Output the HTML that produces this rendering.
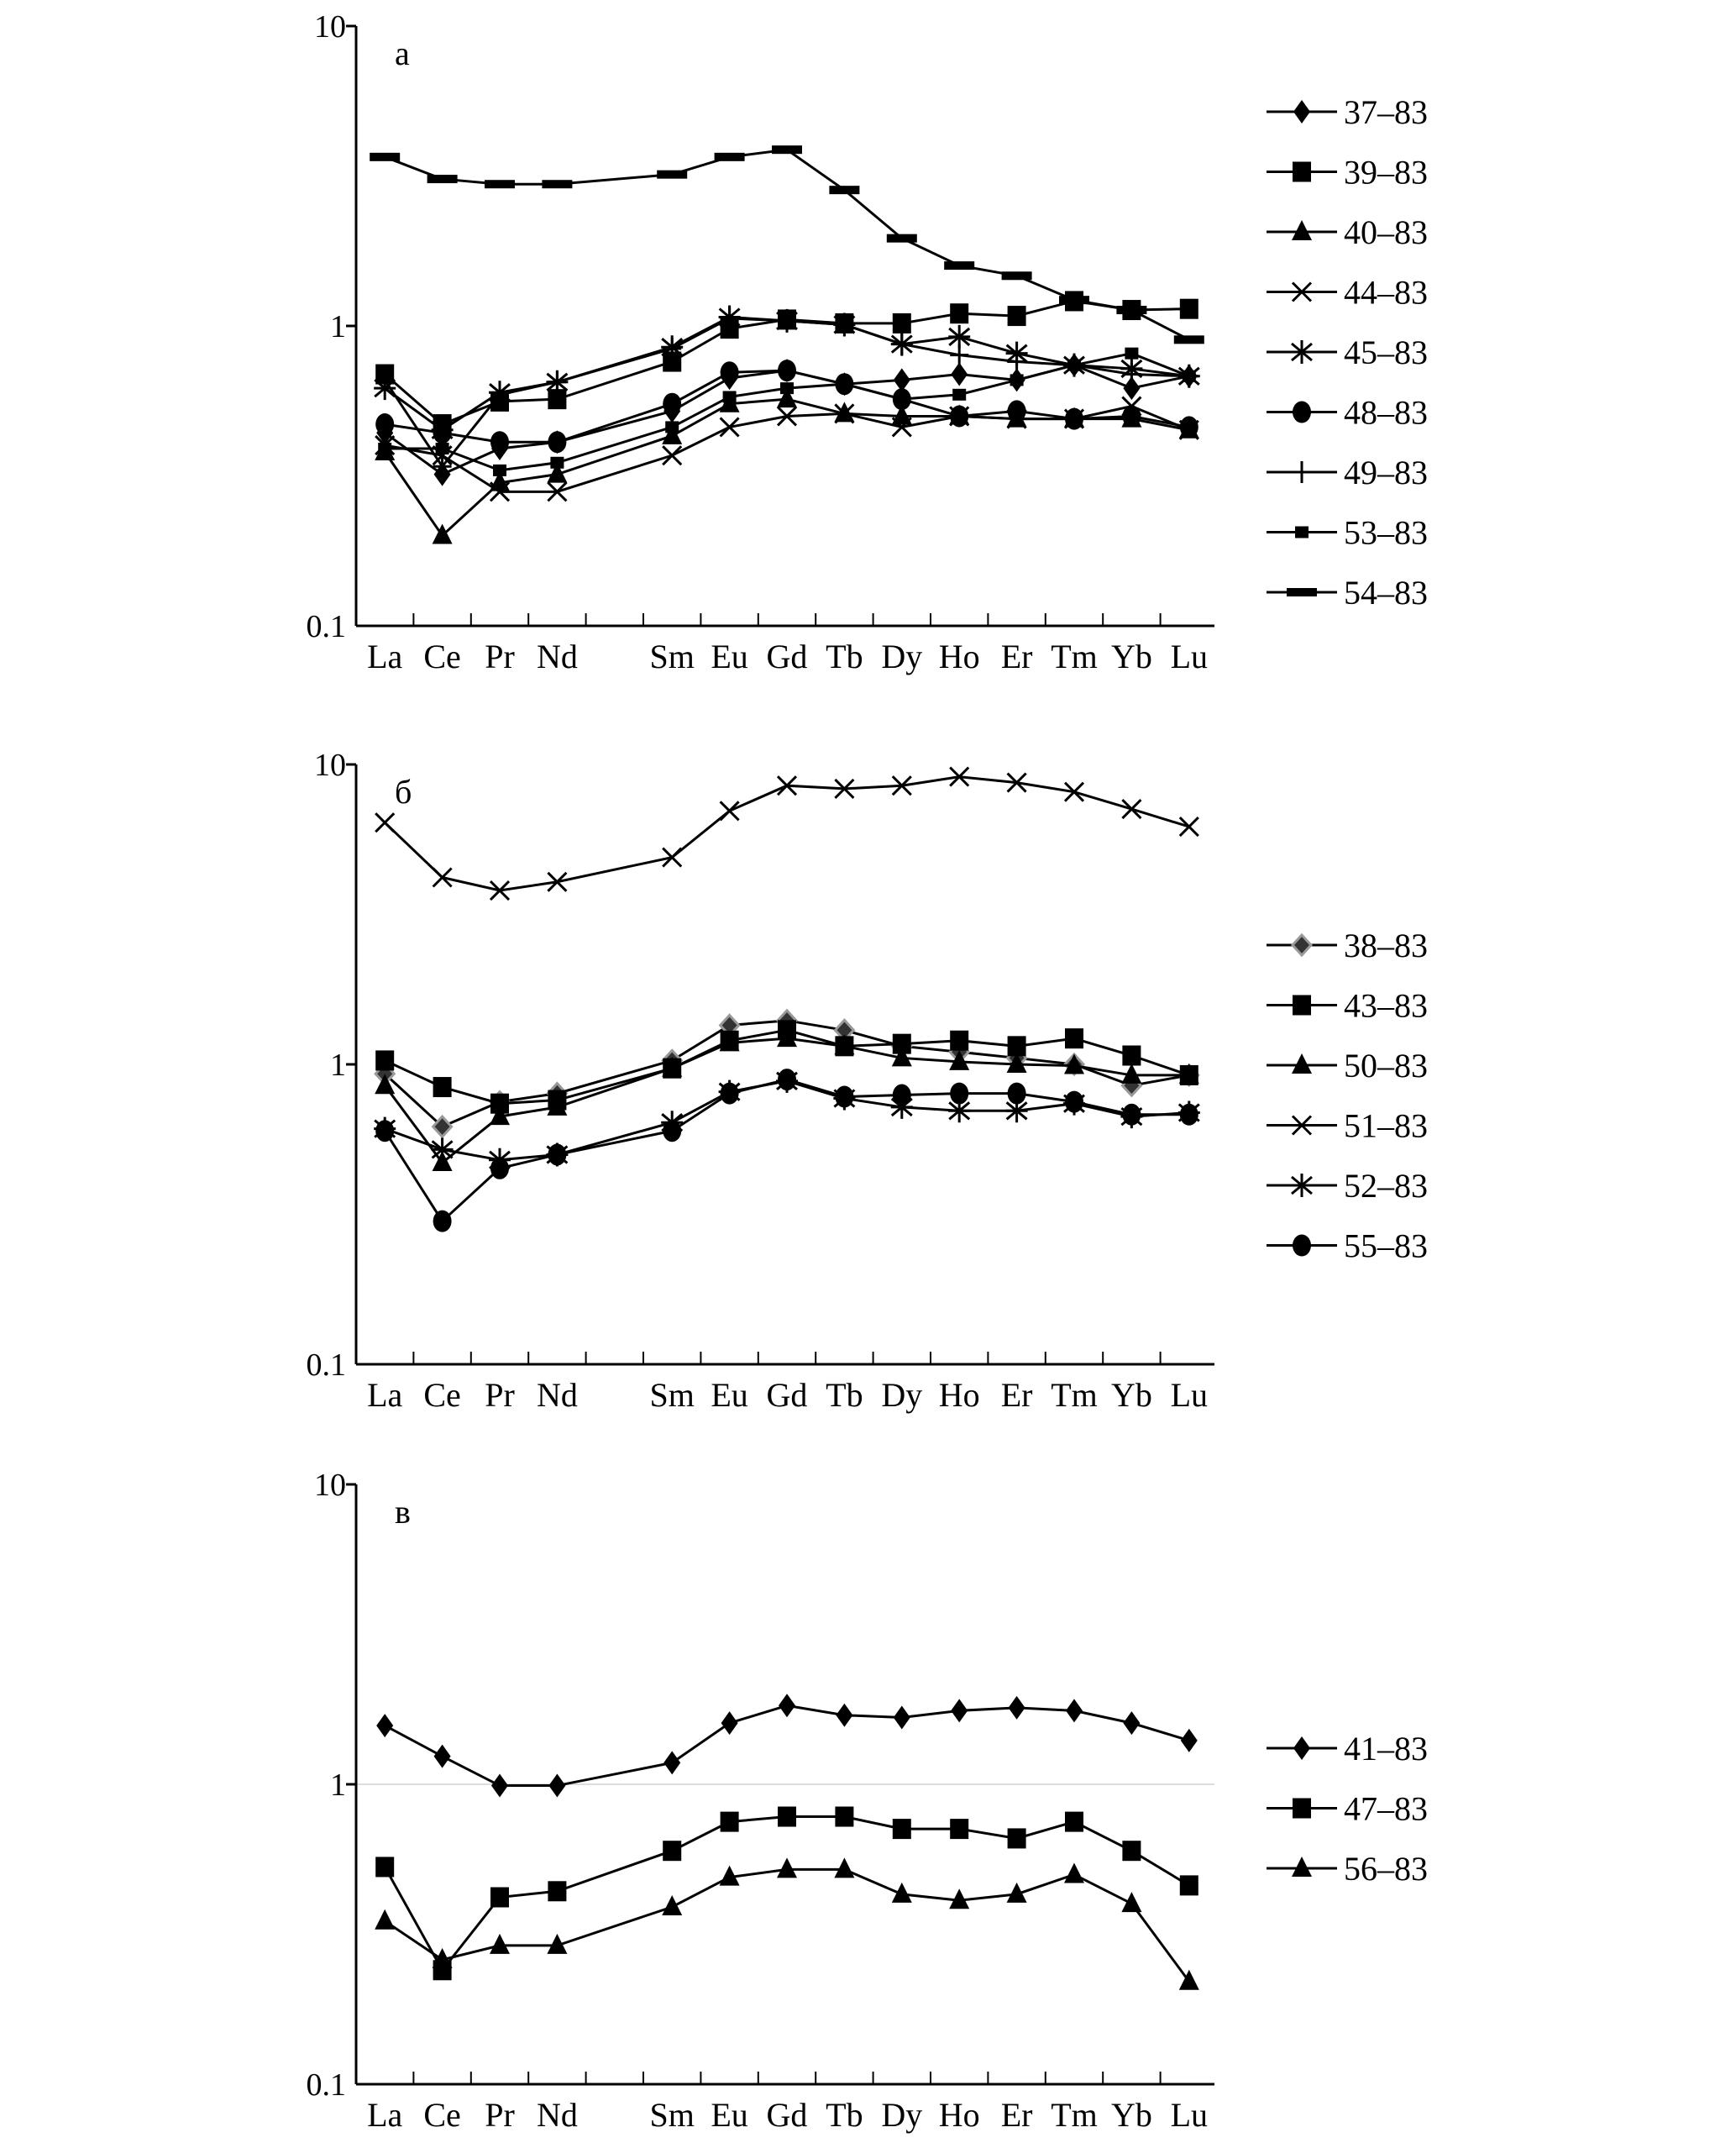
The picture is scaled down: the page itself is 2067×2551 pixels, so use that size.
<!DOCTYPE html>
<html><head><meta charset="utf-8"><style>
html,body{margin:0;padding:0;background:#fff;}
svg{display:block;}
text{font-family:"Liberation Serif",serif;fill:#000;}
</style></head><body>
<svg id="chart" width="2067" height="2551" viewBox="0 0 2067 2551" xmlns="http://www.w3.org/2000/svg"></svg>
<script>
const categories = ["La","Ce","Pr","Nd","Sm","Eu","Gd","Tb","Dy","Ho","Er","Tm","Yb","Lu"];
const catIndex = [0,1,2,3,5,6,7,8,9,10,11,12,13,14];
const yTickLabels = ["10","1","0.1"];
const yTickValues = [10,1,0.1];

const a_names = ["37–83","39–83","40–83","44–83","45–83","48–83","49–83","53–83","54–83"];
const a_markers = ["diamond","square","triangle","x","asterisk","circle","plus","smallsquare","dash"];
const a_37 = [0.44,0.32,0.39,0.41,0.52,0.67,0.71,0.64,0.66,0.69,0.66,0.74,0.62,0.68];
const a_39 = [0.69,0.47,0.56,0.57,0.76,0.98,1.05,1.02,1.02,1.10,1.08,1.21,1.13,1.14];
const a_40 = [0.38,0.20,0.30,0.32,0.43,0.55,0.57,0.51,0.50,0.50,0.49,0.49,0.49,0.45];
const a_44 = [0.40,0.37,0.28,0.28,0.37,0.46,0.50,0.51,0.46,0.50,0.49,0.49,0.54,0.45];
const a_45 = [0.62,0.45,0.60,0.65,0.85,1.07,1.04,1.01,0.87,0.92,0.81,0.74,0.72,0.68];
const a_48 = [0.47,0.44,0.41,0.41,0.55,0.70,0.71,0.64,0.57,0.50,0.52,0.49,0.50,0.46];
const a_49 = [0.66,0.34,0.59,0.65,0.84,1.06,1.04,1.01,0.87,0.80,0.76,0.74,0.69,0.68];
const a_53 = [0.39,0.39,0.33,0.35,0.46,0.58,0.62,0.64,0.57,0.59,0.66,0.74,0.81,0.68];
const a_54 = [3.66,3.09,2.97,2.97,3.20,3.66,3.87,2.84,1.96,1.59,1.47,1.22,1.13,0.90];

const b_names = ["38–83","43–83","50–83","51–83","52–83","55–83"];
const b_markers = ["graydiamond","square","triangle","x","asterisk","circle"];
const b_38 = [0.93,0.62,0.75,0.80,1.03,1.35,1.40,1.30,1.15,1.10,1.05,1.00,0.85,0.92];
const b_43 = [1.03,0.84,0.74,0.76,0.97,1.20,1.30,1.15,1.17,1.20,1.15,1.22,1.07,0.92];
const b_50 = [0.85,0.47,0.67,0.72,0.97,1.18,1.22,1.15,1.05,1.02,1.00,0.99,0.92,0.92];
const b_51 = [6.4,4.2,3.8,4.06,4.9,7.0,8.5,8.3,8.5,9.1,8.7,8.1,7.1,6.2];
const b_52 = [0.61,0.52,0.48,0.50,0.64,0.81,0.88,0.77,0.72,0.70,0.70,0.74,0.67,0.69];
const b_55 = [0.60,0.30,0.45,0.50,0.60,0.80,0.89,0.78,0.79,0.80,0.80,0.75,0.68,0.68];

const c_names = ["41–83","47–83","56–83"];
const c_markers = ["diamond","square","triangle"];
const c_41 = [1.57,1.24,0.99,0.99,1.18,1.60,1.83,1.70,1.67,1.76,1.80,1.76,1.60,1.40];
const c_47 = [0.53,0.24,0.42,0.44,0.60,0.75,0.78,0.78,0.71,0.71,0.66,0.75,0.60,0.46];
const c_56 = [0.35,0.26,0.29,0.29,0.39,0.49,0.52,0.52,0.43,0.41,0.43,0.50,0.40,0.22];

const NS = "http://www.w3.org/2000/svg";
const svg = document.getElementById("chart");
function mk(tag, attrs, parent){const e=document.createElementNS(NS,tag);for(const k in attrs)e.setAttribute(k,attrs[k]);(parent||svg).appendChild(e);return e;}

const X0=424, X1=1446, STEP=68.4;
function xPos(i){return X0+STEP/2+catIndex[i]*STEP;}

function marker(g,type,x,y){
  let e;
  if(type==="diamond"){e=mk("polygon",{points:`${x},${y-14} ${x+10},${y} ${x},${y+14} ${x-10},${y}`,fill:"#000"},g);}
  else if(type==="graydiamond"){e=mk("polygon",{points:`${x},${y-12} ${x+11},${y} ${x},${y+12} ${x-11},${y}`,fill:"#333",stroke:"#999","stroke-width":3},g);}
  else if(type==="square"){e=mk("rect",{x:x-11,y:y-12,width:22,height:24,fill:"#000"},g);}
  else if(type==="smallsquare"){e=mk("rect",{x:x-8,y:y-7,width:16,height:14,fill:"#000"},g);}
  else if(type==="triangle"){e=mk("polygon",{points:`${x},${y-14} ${x+12},${y+10} ${x-12},${y+10}`,fill:"#000"},g);}
  else if(type==="circle"){e=mk("ellipse",{cx:x,cy:y,rx:11,ry:13,fill:"#000"},g);}
  else if(type==="dash"){e=mk("rect",{x:x-18,y:y-5,width:36,height:10,fill:"#000"},g);}
  else if(type==="x"){e=mk("path",{d:`M${x-11},${y-11}L${x+11},${y+11}M${x-11},${y+11}L${x+11},${y-11}`,stroke:"#000","stroke-width":3,fill:"none"},g);}
  else if(type==="plus"){e=mk("path",{d:`M${x-11},${y}L${x+11},${y}M${x},${y-13}L${x},${y+13}`,stroke:"#000","stroke-width":3,fill:"none"},g);}
  else if(type==="asterisk"){e=mk("path",{d:`M${x-12},${y-10}L${x+12},${y+10}M${x-12},${y+10}L${x+12},${y-10}M${x},${y-14}L${x},${y+14}M${x-13},${y}L${x+13},${y}`,stroke:"#000","stroke-width":3,fill:"none"},g);}
  
  
}

function panel(pname,top,letter,series,names,markers,legTop,refLine){
  const DEC=357;
  function yPos(v){return top+(1-Math.log10(v))*DEC;}
  const bottom=yPos(0.1);
  const g=mk("g",{});
  
  
  if(refLine){const r=mk("line",{x1:X0,x2:X1,y1:yPos(1),y2:yPos(1),stroke:"#ddd","stroke-width":2},g);
    
    }
  const ya=mk("line",{x1:X0,x2:X0,y1:top,y2:bottom,stroke:"#000","stroke-width":3},g);
  
  
  const xa=mk("line",{x1:X0,x2:X1,y1:bottom,y2:bottom,stroke:"#000","stroke-width":3},g);
  
  
  yTickValues.forEach((v,i)=>{
    const y=yPos(v);
    if(v!==0.1){const t=mk("line",{x1:X0-12,x2:X0,y1:y,y2:y,stroke:"#000","stroke-width":3},g);
      
      }
    const tx=mk("text",{x:X0-12,y:y+13,"text-anchor":"end","font-size":38},g);
    tx.textContent=yTickLabels[i];
    
    
  });
  for(let k=1;k<=14;k++){
    const x=X0+k*STEP;
    const t=mk("line",{x1:x,x2:x,y1:bottom-15,y2:bottom,stroke:"#000","stroke-width":2},g);
    
    
  }
  categories.forEach((c,i)=>{
    const t=mk("text",{x:xPos(i),y:bottom+50,"text-anchor":"middle","font-size":40},g);
    t.textContent=c;
    
    
  });
  const lt=mk("text",{x:470,y:top+46,"font-size":40},g);
  lt.textContent=letter;
  
  
  series.forEach((vals,s)=>{
    const sg=mk("g",{},g);
    
    
    const pts=vals.map((v,i)=>xPos(i)+","+yPos(v)).join(" ");
    const pl=mk("polyline",{points:pts,fill:"none",stroke:"#000","stroke-width":3},sg);
    
    
    vals.forEach((v,i)=>marker(sg,markers[s],xPos(i),yPos(v)));
    const ly=legTop+s*71.5;
    const lg=mk("g",{},g);
    
    
    mk("line",{x1:1508,x2:1592,y1:ly,y2:ly,stroke:"#000","stroke-width":3},lg);
    marker(lg,markers[s],1550,ly);
    const ltx=mk("text",{x:1600,y:ly+14,"font-size":40},lg);
    ltx.textContent=names[s];
    
    
  });
}
panel("panel-a",31,"а",[a_37,a_39,a_40,a_44,a_45,a_48,a_49,a_53,a_54],a_names,a_markers,133,false);
panel("panel-b",910,"б",[b_38,b_43,b_50,b_51,b_52,b_55],b_names,b_markers,1125,false);
panel("panel-c",1767,"в",[c_41,c_47,c_56],c_names,c_markers,2081,true);
</script>
</body></html>
